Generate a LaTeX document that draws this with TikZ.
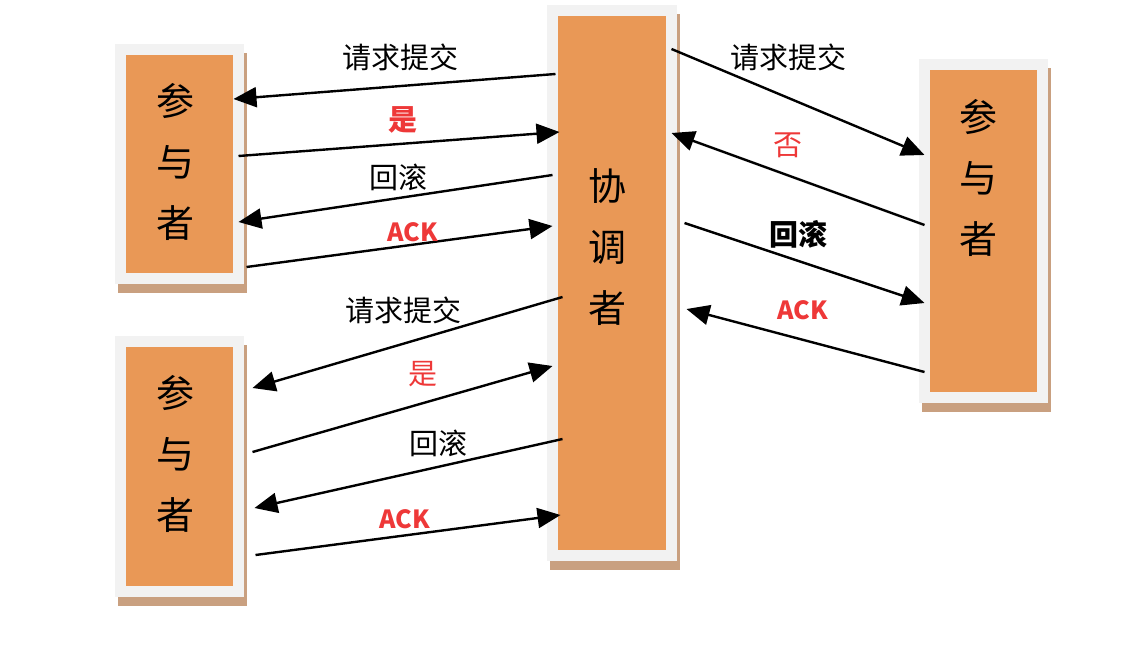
\documentclass[tikz,border=0pt]{standalone}
\usepackage{fontspec}
\newfontfamily\cjk{Noto Sans CJK SC}
\definecolor{orangeP}{RGB}{233,152,86}
\definecolor{cadre}{RGB}{242,242,242}
\definecolor{ombre}{RGB}{201,160,128}
\definecolor{rouge}{RGB}{238,56,56}
\usetikzlibrary{arrows.meta,calc}

\begin{document}
\begin{tikzpicture}[x=0.5pt,y=-0.5pt,font=\cjk,
	role/.style={fill=orangeP,draw=cadre,line width=5.5pt,inner sep=0pt,outer sep=0pt,
		preaction={fill=ombre,draw=ombre,transform canvas={xshift=1.25pt,yshift=-4.25pt}}},
	nom/.style={align=center,inner sep=0pt,font=\cjk\fontsize{19}{30.5}\selectfont},
	msg/.style={-{Triangle[length=11.5pt,width=10pt]},line width=1.2pt},
	lbl/.style={inner sep=0pt,font=\cjk\fontsize{14.5}{16}\selectfont},
	lblb/.style={lbl,font=\cjk\bfseries\fontsize{14.5}{16}\selectfont},
	ack/.style={inner sep=0pt,text=rouge,font=\cjk\bfseries\fontsize{12.5}{14}\selectfont}]
				\useasboundingbox (0,0) rectangle (1144,648);
				
				% participants et coordinateur
				\node[role,minimum width=59pt,minimum height=114.5pt] (p1) at (179.5,164) {};
				\node[role,minimum width=59pt,minimum height=125pt] (p2) at (179.5,466.5) {};
				\node[role,minimum width=59.5pt,minimum height=272.5pt] (co) at (612,283) {};
				\node[role,minimum width=59pt,minimum height=166.5pt] (p3) at (983.5,231) {};
				
				\node[nom] (t1) at (175,162) {参\\与\\者};
				\node[nom] (t2) at (175,454) {参\\与\\者};
				\node[nom] (t3) at (978,178) {参\\与\\者};
				\node[nom] (t0) at (607,247) {协\\调\\者};
				
				% haut gauche
				\draw[msg] ($(co.west |- 0,74)+(3,0)$) -- ($(p1.east |- 0,99)+(-5,0)$);
				\draw[msg] (p1.east |- 0,156) -- ($(co.west |- 0,132)+(7,0)$);
				\draw[msg] (co.west |- 0,175) -- (p1.east |- 0,222);
				\draw[msg] ($(p1.east |- 0,267)+(8,0)$) -- (co.west |- 0,226);
				\node[lbl] (l1) at (400,57) {请求提交};
				\node[lblb,text=rouge] (l2) at (403,120) {是};
				\node[lbl] (l3) at (398,177) {回滚};
				\node[ack] (l4) at (413,232) {ACK};
				
				% bas gauche
				\draw[msg] ($(co.west |- 0,297)+(10,0)$) -- ($(p2.east |- 0,388)+(14,0)$);
				\draw[msg] ($(p2.east |- 0,452)+(14,0)$) -- (co.west |- 0,366);
				\draw[msg] ($(co.west |- 0,439)+(10,0)$) -- ($(p2.east |- 0,508)+(16,0)$);
				\draw[msg] ($(p2.east |- 0,555)+(17,0)$) -- ($(co.west |- 0,515)+(8,0)$);
				\node[lbl] (m1) at (403,310) {请求提交};
				\node[lbl,text=rouge] (m2) at (423,374) {是};
				\node[lbl] (m3) at (438,443) {回滚};
				\node[ack] (m4) at (405,519) {ACK};
				
				% droite
				\draw[msg] (co.east |- 0,49) -- (p3.west |- 0,155);
				\draw[msg] (p3.west |- 0,225) -- (co.east |- 0,133);
				\draw[msg] ($(co.east |- 0,223)+(13,0)$) -- (p3.west |- 0,303);
				\draw[msg] (p3.west |- 0,372) -- ($(co.east |- 0,309)+(15,0)$);
				\node[lbl] (r1) at (788,57) {请求提交};
				\node[lbl,text=rouge] (r2) at (788,145) {否};
				\node[lblb] (r3) at (798,234) {回滚};
				\node[ack] (r4) at (803,310) {ACK};
			\end{tikzpicture}
\end{document}
